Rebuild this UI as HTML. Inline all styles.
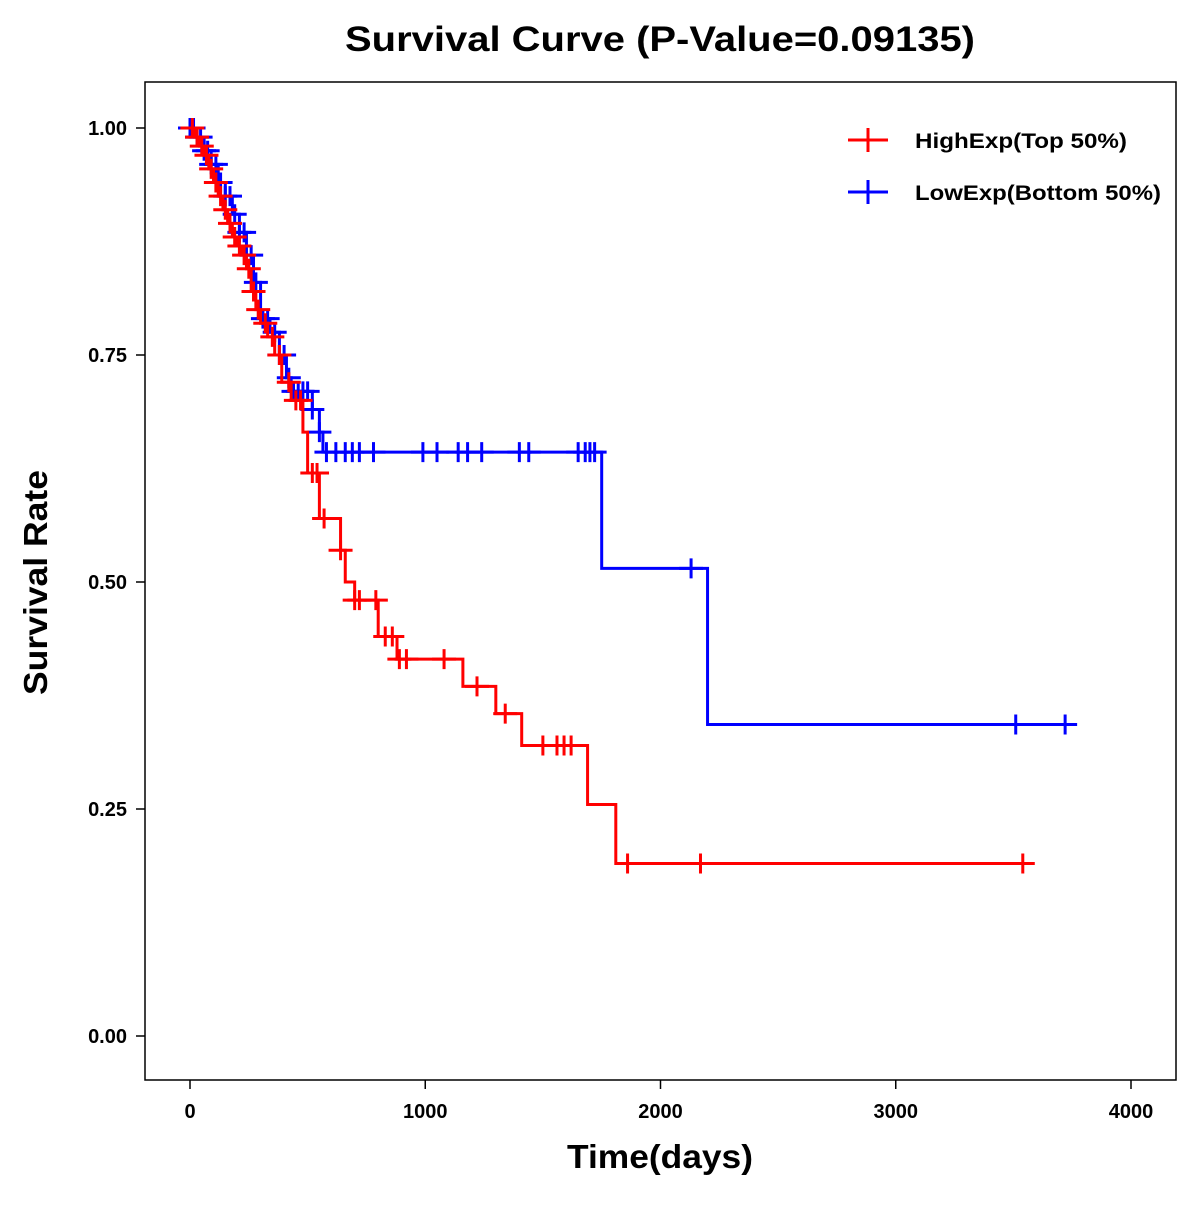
<!DOCTYPE html>
<html><head><meta charset="utf-8"><style>
body{margin:0;background:#fff}
svg text{font-family:"Liberation Sans",Arial,sans-serif;font-weight:bold}
</style></head><body>
<svg id="chart" width="1200" height="1200" xmlns="http://www.w3.org/2000/svg">
<rect width="1200" height="1200" fill="#fff"/>
<text x="345" y="51" font-size="35" textLength="630" lengthAdjust="spacingAndGlyphs">Survival Curve (P-Value=0.09135)</text>
<rect x="145" y="82" width="1031" height="998" fill="none" stroke="#000" stroke-width="1.5"/>
<g id="axes"></g>
<g id="series"></g>
<text x="567" y="1168" font-size="33" textLength="186" lengthAdjust="spacingAndGlyphs">Time(days)</text>
<text transform="translate(47,695) rotate(-90)" font-size="33" textLength="225" lengthAdjust="spacingAndGlyphs">Survival Rate</text>
<g>
<g><line x1="848" y1="140" x2="888" y2="140" stroke="#f00" stroke-width="3"/><line x1="868" y1="128" x2="868" y2="152" stroke="#f00" stroke-width="3"/><text x="915" y="148" font-size="21" textLength="212" lengthAdjust="spacingAndGlyphs">HighExp(Top 50%)</text></g>
<g><line x1="848" y1="192" x2="888" y2="192" stroke="#00f" stroke-width="3"/><line x1="868" y1="180" x2="868" y2="204" stroke="#00f" stroke-width="3"/><text x="915" y="200" font-size="21" textLength="246" lengthAdjust="spacingAndGlyphs">LowExp(Bottom 50%)</text></g>
</g>
</svg>
<script>
const xTicks=[0,1000,2000,3000,4000];
const yTicks=[0,0.25,0.5,0.75,1.0];
const yTickLabels=["0.00","0.25","0.50","0.75","1.00"];
const highTimes=[0,20,40,60,80,100,120,140,160,180,200,220,240,260,280,300,330,360,390,430,480,500,550,640,660,700,800,880,1160,1300,1410,1690,1810];
const highSurv=[1.0,0.99,0.98,0.97,0.955,0.94,0.925,0.91,0.895,0.88,0.87,0.86,0.845,0.82,0.80,0.785,0.77,0.75,0.72,0.70,0.665,0.62,0.57,0.535,0.50,0.48,0.44,0.415,0.385,0.355,0.32,0.255,0.19];
const highEnd=3550;
const highCensor=[10,30,50,70,90,110,130,150,170,190,210,230,250,270,290,320,350,380,420,450,470,520,540,570,640,700,720,790,830,860,890,920,1080,1220,1340,1500,1560,1590,1620,1860,2170,3540];
const lowTimes=[0,30,60,90,120,150,180,210,240,270,300,340,380,410,430,520,550,565,1750,2200];
const lowSurv=[1.0,0.99,0.975,0.96,0.94,0.925,0.905,0.885,0.86,0.83,0.79,0.775,0.75,0.725,0.71,0.69,0.665,0.643,0.515,0.343];
const lowEnd=3760;
const lowCensor=[0,15,30,45,60,75,90,110,130,150,170,190,210,230,260,280,310,330,360,380,400,420,440,460,480,500,520,550,580,620,660,690,720,780,990,1050,1140,1180,1240,1400,1440,1650,1680,1700,1720,2130,3510,3720];
const xS=t=>190+t*0.23525;
const yS=s=>1036-s*908;
const NS="http://www.w3.org/2000/svg";
function mk(tag,attrs,parent){const e=document.createElementNS(NS,tag);for(const k in attrs)e.setAttribute(k,attrs[k]);parent.appendChild(e);return e;}
const ax=document.getElementById('axes');
xTicks.forEach(t=>{
 const l=mk('line',{x1:xS(t),x2:xS(t),y1:1080,y2:1089,stroke:'#000','stroke-width':1.5},ax);
 
 
 const tx=mk('text',{x:xS(t),y:1118,'font-size':20,'text-anchor':'middle'},ax);tx.textContent=t;
 
 
});
yTicks.forEach((v,i)=>{
 const l=mk('line',{x1:136,x2:145,y1:yS(v),y2:yS(v),stroke:'#000','stroke-width':1.5},ax);
 
 
 const tx=mk('text',{x:127,y:yS(v)+7,'font-size':20,'text-anchor':'end'},ax);tx.textContent=yTickLabels[i];
 
 
});
function survAt(times,surv,t){let s=surv[0];for(let i=0;i<times.length;i++){if(times[i]<=t)s=surv[i];}return s;}
function draw(times,surv,end,cens,color,name){
 const g=mk('g',{},document.getElementById('series'));
 
 
 let d='M'+xS(times[0])+','+yS(surv[0]);
 for(let i=1;i<times.length;i++){d+=' H'+xS(times[i])+' V'+yS(surv[i]);}
 d+=' H'+xS(end);
 const p=mk('path',{d:d,fill:'none',stroke:color,'stroke-width':3},g);
 
 
 cens.forEach(t=>{
  const x=xS(t),y=yS(survAt(times,surv,t));
  const c=mk('path',{d:`M${x-12},${y}H${x+12}M${x},${y-10}V${y+10}`,stroke:color,'stroke-width':3,fill:'none'},g);
  
  
 });
}
draw(lowTimes,lowSurv,lowEnd,lowCensor,'#00f','low-exp');
draw(highTimes,highSurv,highEnd,highCensor,'#f00','high-exp');
</script>
</body></html>
